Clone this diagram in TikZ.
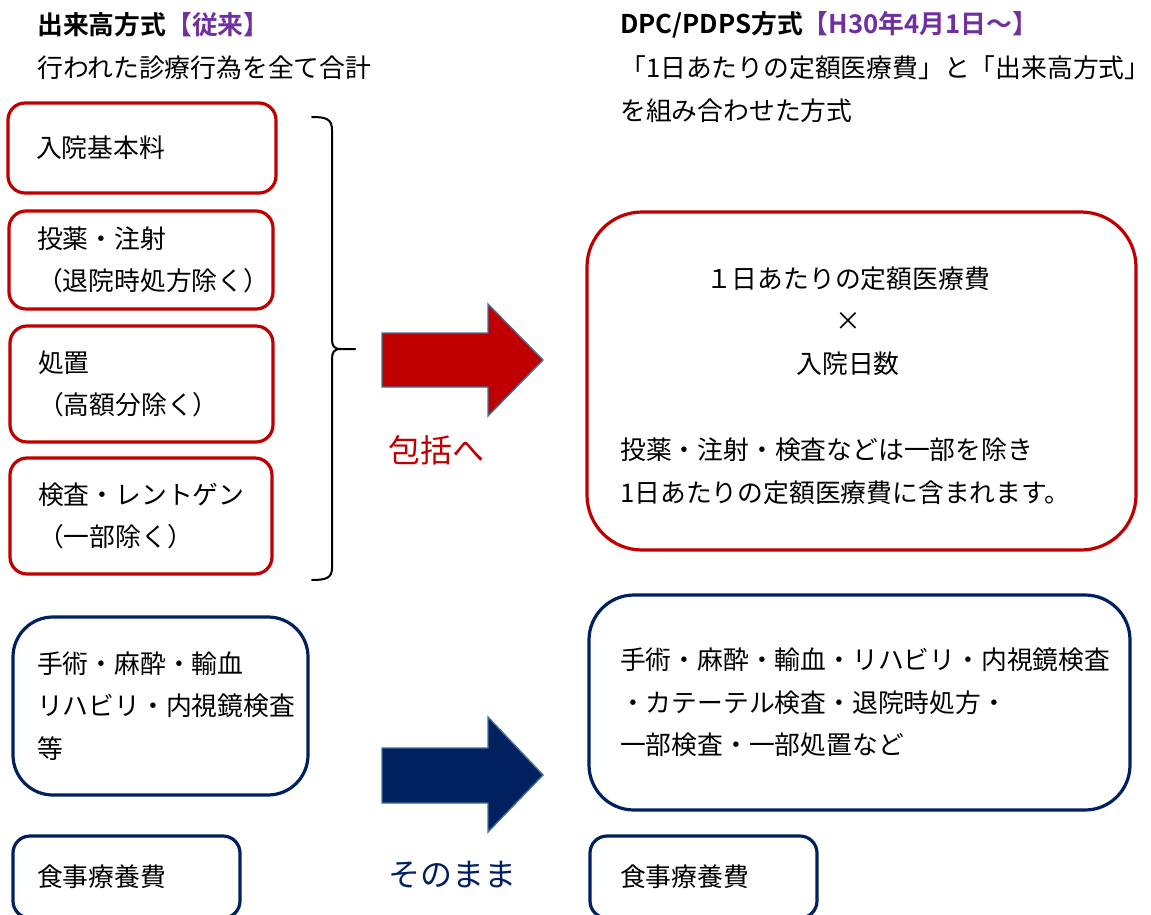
\documentclass[tikz,border=0pt]{standalone}
\usepackage{fontspec}
\setmainfont{Noto Sans CJK JP}[BoldFont={Noto Sans CJK JP Bold}]
\usepackage{tikz}
\usetikzlibrary{positioning}
\definecolor{boxred}{HTML}{C00000}
\definecolor{navy}{HTML}{002060}
\definecolor{plum}{HTML}{7030A0}
\definecolor{steel}{HTML}{41719C}
\tikzstyle{box}=[draw, line width=3.2pt, inner ysep=0pt, align=left]
\tikzstyle{redbox}=[box, draw=boxred, rounded corners=17pt, inner xsep=28pt]
\tikzstyle{bluebox}=[box, draw=navy, rounded corners=17pt, inner xsep=24pt]
\tikzstyle{blockarrow}=[draw=steel, line width=1.4pt, line join=miter]
\tikzstyle{curly}=[line width=2pt, line cap=round]
\tikzstyle{head}=[anchor=west, align=left, inner sep=0pt]
\tikzstyle{tag}=[anchor=west, inner sep=0pt, font=\fontsize{32pt}{40pt}\selectfont]

\begin{document}
\begin{tikzpicture}[x=1pt, y=-1pt, font=\fontsize{25.8pt}{42.5pt}\selectfont]
    \useasboundingbox (0,0) rectangle (1151,915);

    % old method
    \node (oldtitle) [head] at (37,25)
      {\bfseries 出来高方式\textcolor{plum}{【従来】}};
    \node (oldnote) [head] at (37,68) {行われた診療行為を全て合計};

    \node (kihon) [redbox, text width=212pt, minimum height=90pt] at (142,148)
      {入院基本料};
    \node (toyaku) [redbox, text width=208pt, minimum height=98pt] at (141,260)
      {投薬・注射\\（退院時処方除く）};
    \node (shochi) [redbox, text width=207pt, minimum height=116pt] at (141.5,384)
      {処置\\（高額分除く）};
    \node (kensa) [redbox, text width=206pt, minimum height=116pt] at (141,516)
      {検査・レントゲン\\（一部除く）};

    \draw[curly] (312,117) .. controls (326,117) and (332,119) .. (332,130)
      -- (332,339) .. controls (332,346) and (334,349) .. (341,349) -- (355,349);
    \draw[curly] (341,349) .. controls (334,349) and (332,352) .. (332,359)
      -- (332,568) .. controls (332,578) and (326,580) .. (312,580);

    \node (shujutsu) [bluebox, rounded corners=40pt, text width=247pt, minimum height=178pt]
      at (160.5,706) {手術・麻酔・輸血\\リハビリ・内視鏡検査\\等};
    \node (shokuji) [bluebox, text width=179pt, minimum height=82pt] at (126.5,877)
      {食事療養費};

    % arrows
    \draw[blockarrow, fill=boxred] (382,333) -- (488,333) -- (488,304) -- (543,360)
      -- (488,416) -- (488,387) -- (382,387) -- cycle;
    \node (hokatsu) [tag, text=boxred] at (388,450) {包括へ};

    \draw[blockarrow, fill=navy] (382,748) -- (488,748) -- (488,717) -- (543,775)
      -- (488,832) -- (488,803) -- (382,803) -- cycle;
    \node (sonomama) [tag, text=navy] at (388,875) {そのまま};

    % new method
    \node (newtitle) [head] at (620,25)
      {\bfseries DPC/PDPS方式\textcolor{plum}{【H30年4月1日～】}};
    \node (newnote) [head] at (620,89)
      {「1日あたりの定額医療費」と「出来高方式」\\を組み合わせた方式};

    \node (teigaku) [box, draw=boxred, rounded corners=55pt, minimum width=549pt,
      minimum height=338pt] at (861.5,381) {};
    \node (keisan) [align=center, inner sep=0pt] at (848,321)
      {１日あたりの定額医療費\\×\\入院日数};
    \node (hoseki) [head] at (620,471)
      {投薬・注射・検査などは一部を除き\\1日あたりの定額医療費に含まれます。};

    \node (dekidaka) [bluebox, rounded corners=45pt, inner xsep=31pt, text width=479pt,
      minimum height=215pt] at (859.5,702.5)
      {手術・麻酔・輸血・リハビリ・内視鏡検査\\・カテーテル検査・退院時処方・\\一部検査・一部処置など};
    \node (shokuji2) [bluebox, inner xsep=30pt, text width=167pt, minimum height=82pt]
      at (703.5,877) {食事療養費};

  \end{tikzpicture}
\end{document}
